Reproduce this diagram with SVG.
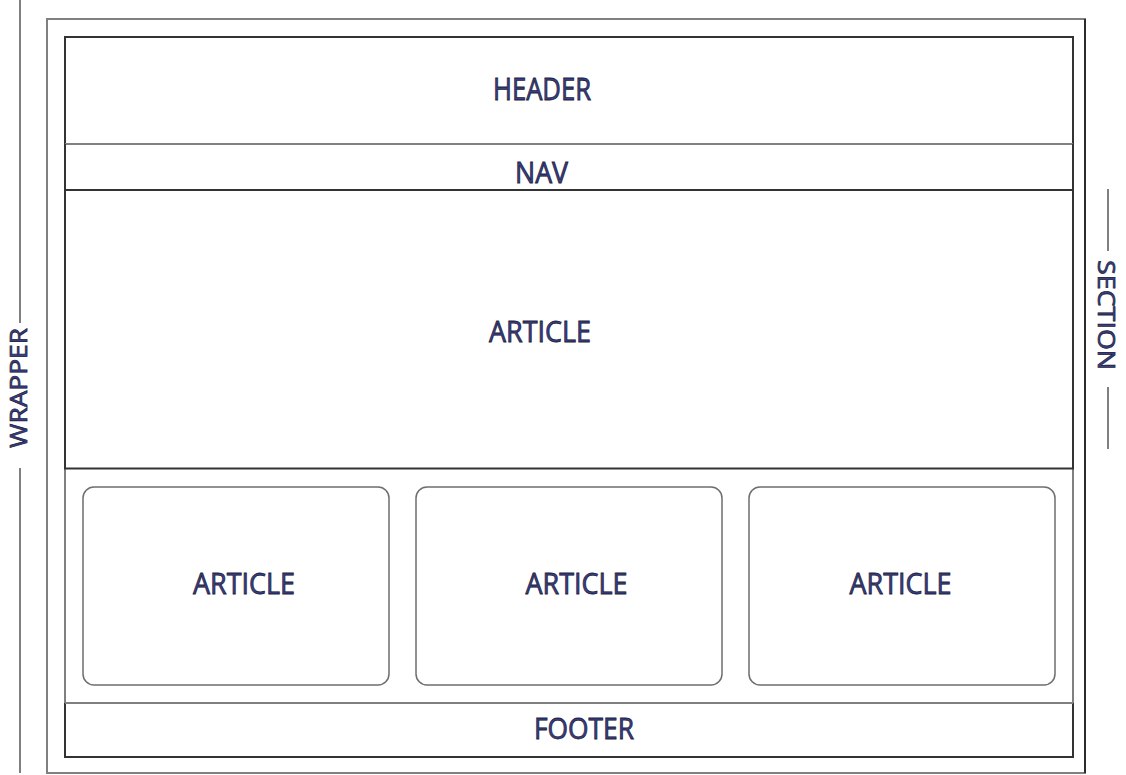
<svg xmlns="http://www.w3.org/2000/svg" width="1126" height="775" viewBox="0 0 1126 775">
<style>
.g{fill:none;stroke:#808080;stroke-width:2}
.d{fill:none;stroke:#333333;stroke-width:2}
.b{fill:none;stroke:#111111;stroke-width:1.5}
.box{fill:#ffffff;stroke:#6e6e6e;stroke-width:1.5}
.t{font-family:"Open Sans","Noto Sans",sans-serif;font-weight:500;font-size:30px;fill:#383d8c;stroke:#1e1e34;stroke-width:0.8;text-anchor:middle}
.s{font-size:24px;stroke-width:0.7}
</style>
<rect width="1126" height="775" fill="#ffffff"/>
<g id="wrapper">
<line class="g" x1="20" y1="0" x2="20" y2="323"/>
<line class="g" x1="20" y1="468" x2="20" y2="773"/>
<text class="t s" transform="translate(27,388) rotate(-90)" textLength="120" lengthAdjust="spacingAndGlyphs">WRAPPER</text>
</g>
<g id="outer">
<rect class="g" x="47" y="19" width="1038" height="754"/>
<line class="b" x1="1085" y1="19" x2="1085" y2="773"/>
</g>
<g id="section-label">
<line class="g" x1="1108" y1="189" x2="1108" y2="251"/>
<line class="g" x1="1108" y1="387" x2="1108" y2="449"/>
<text class="t s" transform="translate(1098,315) rotate(90)" textLength="110" lengthAdjust="spacingAndGlyphs">SECTION</text>
</g>
<g id="section">
<rect class="g" x="65" y="37" width="1008" height="720"/>
</g>
<g id="header">
<path class="d" d="M65,144 V37 H1073 V144"/>
<line class="g" x1="65" y1="144" x2="1073" y2="144"/>
<text class="t" x="542" y="100" style="font-size:31px" textLength="98" lengthAdjust="spacingAndGlyphs">HEADER</text>
</g>
<g id="nav">
<path class="d" d="M65,144 V190 H1073 V144"/>
<text class="t" x="541.5" y="183" textLength="53" lengthAdjust="spacingAndGlyphs">NAV</text>
</g>
<g id="article-main">
<path class="d" d="M65,190 V468.5 H1073 V190"/>
<text class="t" x="540" y="342" textLength="102" lengthAdjust="spacingAndGlyphs">ARTICLE</text>
</g>
<g id="article-1">
<rect class="box" x="83" y="487" width="306" height="198" rx="11"/>
<text class="t" x="244" y="594" textLength="102" lengthAdjust="spacingAndGlyphs">ARTICLE</text>
</g>
<g id="article-2">
<rect class="box" x="416" y="487" width="306" height="198" rx="11"/>
<text class="t" x="576.5" y="594" textLength="102" lengthAdjust="spacingAndGlyphs">ARTICLE</text>
</g>
<g id="article-3">
<rect class="box" x="749" y="487" width="306" height="198" rx="11"/>
<text class="t" x="900.5" y="594" textLength="102" lengthAdjust="spacingAndGlyphs">ARTICLE</text>
</g>
<g id="footer">
<path class="d" d="M65,703 V757 H1073 V703"/>
<line class="g" x1="65" y1="703" x2="1073" y2="703"/>
<text class="t" x="584" y="739" textLength="100" lengthAdjust="spacingAndGlyphs">FOOTER</text>
</g>
<g id="connectors"></g>
</svg>
